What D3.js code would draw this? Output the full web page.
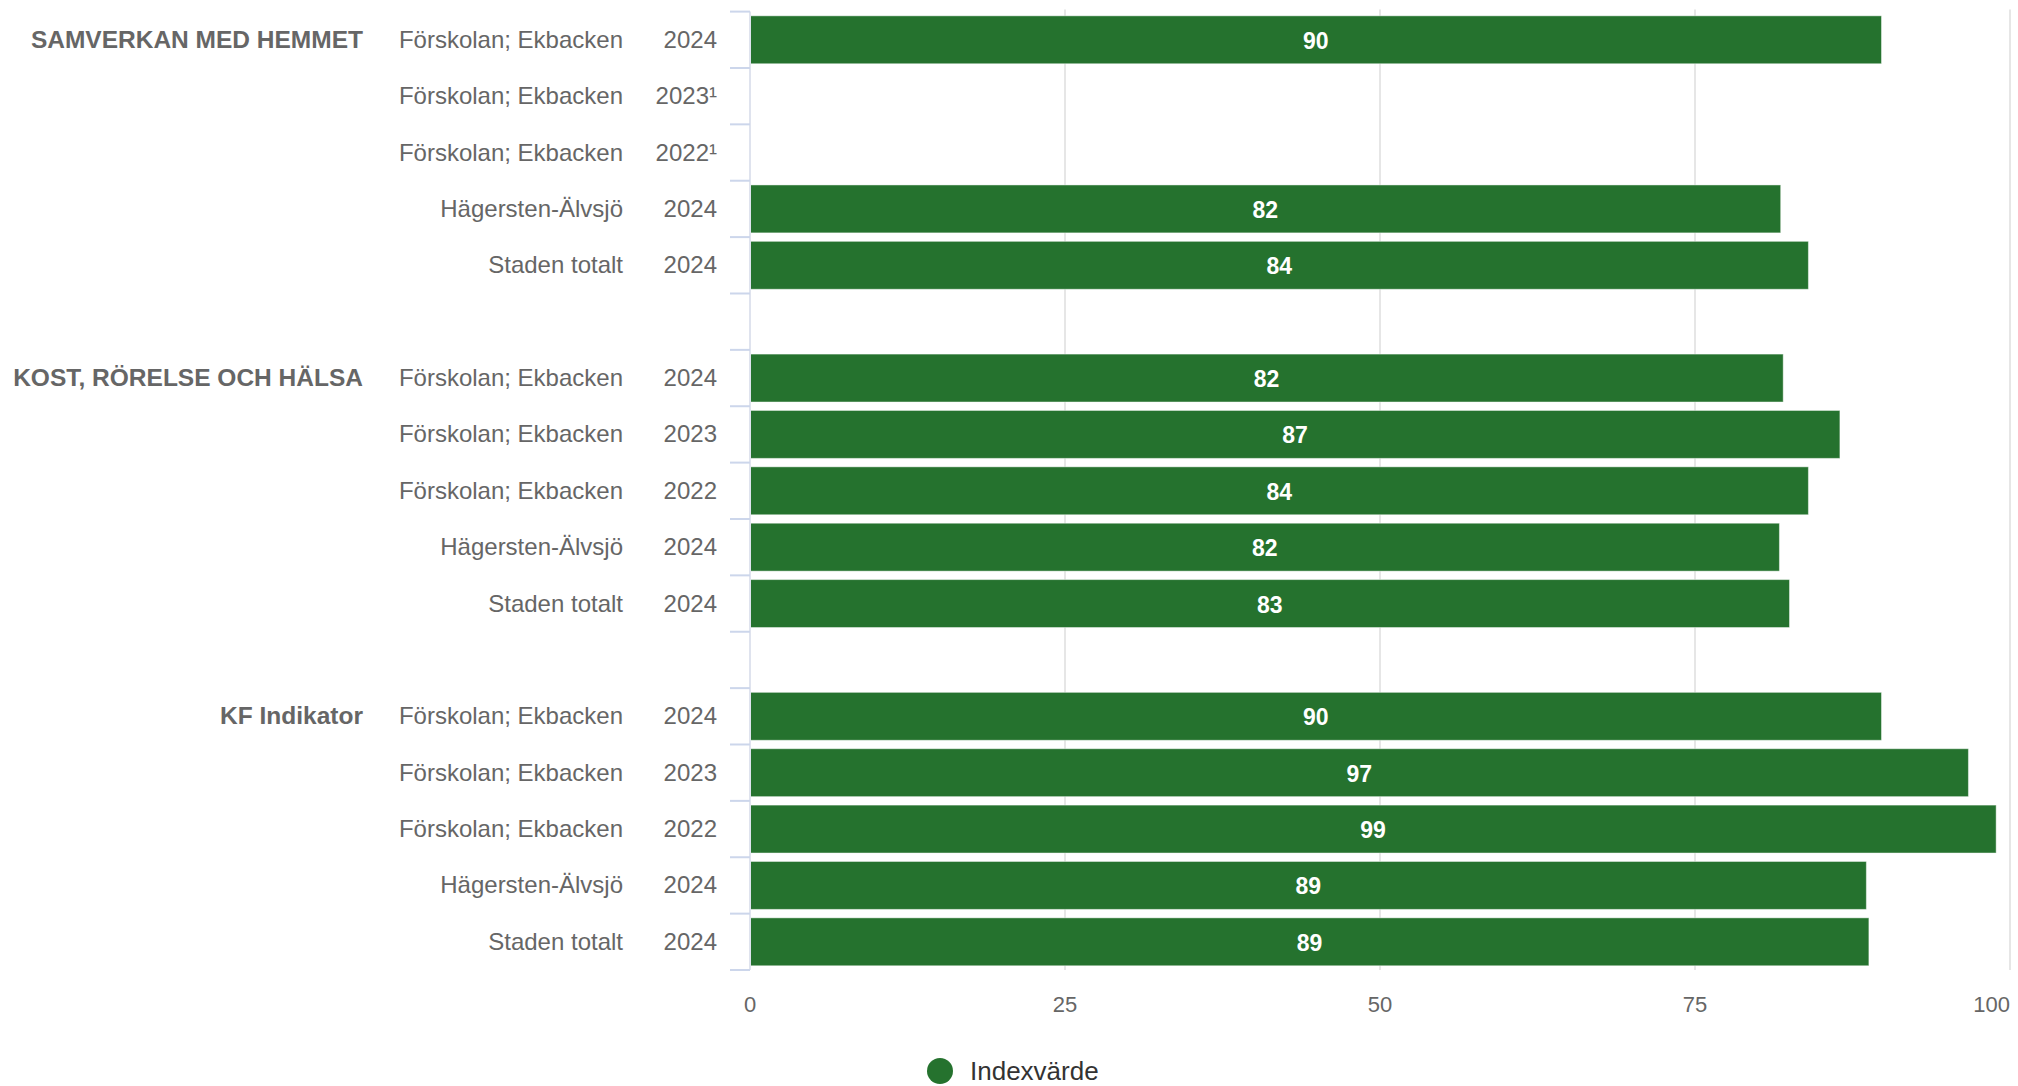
<!DOCTYPE html>
<html>
<head>
<meta charset="utf-8">
<script src="https://cdn.jsdelivr.net/npm/d3@7"></script>
<style>
  body { margin: 0; background: #fff; }
  text { font-family: "Liberation Sans", Arial, sans-serif; }
</style>
</head>
<body>
<svg id="chart" width="2018" height="1086"></svg>
<script>
// data
const groups = ["SAMVERKAN MED HEMMET", "KOST, RÖRELSE OCH HÄLSA", "KF Indikator"];
const units = ["Förskolan; Ekbacken", "Förskolan; Ekbacken", "Förskolan; Ekbacken", "Hägersten-Älvsjö", "Staden totalt"];
const years = [
  ["2024", "2023¹", "2022¹", "2024", "2024"],
  ["2024", "2023", "2022", "2024", "2024"],
  ["2024", "2023", "2022", "2024", "2024"]
];
const values = [
  [89.8, null, null, 81.8, 84],
  [82, 86.5, 84, 81.7, 82.5],
  [89.8, 96.7, 98.9, 88.6, 88.8]
];
const xTicks = [0, 25, 50, 75, 100];
const seriesName = "Indexvärde";

const green = "#25722e";
const labelColor = "#666666";

svg = d3.select('#chart');
width = +svg.attr('width');

// flatten into rows, one empty row between groups
let rows = [];
groups.forEach((g, gi) => {
  units.forEach((u, i) => {
    rows.push({ group: i === 0 ? g : null, unit: u, year: years[gi][i], value: values[gi][i] });
  });
  if (gi < groups.length - 1) rows.push(null);
});
rows = rows.map((r, i) => Object.assign({ idx: i }, r || { gap: true }));

const x = d3.scaleLinear().domain([0, 100]).range([750, 2010]);
const y = d3.scaleBand()
  .domain(rows.map(d => d.idx))
  .range([11.6, 970])
  .paddingInner(0.15)
  .paddingOuter(0.075);
const step = y.step();
const top0 = 11.6;

// grid
svg.append('g')
  .selectAll('line')
  .data(xTicks.slice(1))
  .enter().append('line')
  .attr('x1', d => x(d)).attr('x2', d => x(d))
  .attr('y1', top0 - 2).attr('y2', 970)
  .attr('stroke', '#e6e6e6')
  .attr('stroke-width', 2);

// x labels
svg.append('g')
  .selectAll('text')
  .data(xTicks)
  .enter().append('text')
  .attr('x', d => x(d))
  .attr('y', 1012)
  .attr('text-anchor', d => d === 100 ? 'end' : 'middle')
  .attr('fill', labelColor)
  .style('font-size', '22px')
  .text(d => d);

// bars
svg.append('g')
  .selectAll('rect')
  .data(rows.filter(d => !d.gap && d.value != null))
  .enter().append('rect')
  .attr('x', x(0))
  .attr('y', d => y(d.idx))
  .attr('width', d => x(d.value) - x(0))
  .attr('height', y.bandwidth())
  .attr('fill', green)
  .attr('stroke', 'rgba(255,255,255,0.45)')
  .attr('stroke-width', 1);

// y axis line and ticks
svg.append('line')
  .attr('x1', 750).attr('x2', 750)
  .attr('y1', top0).attr('y2', 970)
  .attr('stroke', '#dfe3ee')
  .attr('stroke-width', 2);

svg.append('g')
  .selectAll('line')
  .data(d3.range(rows.length + 1))
  .enter().append('line')
  .attr('x1', 730).attr('x2', 750)
  .attr('y1', i => top0 + i * step).attr('y2', i => top0 + i * step)
  .attr('stroke', '#ccd6eb')
  .attr('stroke-width', 2);

// data labels
svg.append('g')
  .selectAll('text')
  .data(rows.filter(d => !d.gap && d.value != null))
  .enter().append('text')
  .attr('x', d => (x(0) + x(d.value)) / 2)
  .attr('y', d => y(d.idx) + y.bandwidth() / 2 + 9)
  .attr('text-anchor', 'middle')
  .attr('fill', '#fff')
  .style('font-size', '23px')
  .style('font-weight', 'bold')
  .text(d => Math.round(d.value));

// category labels
const lab = svg.append('g')
  .selectAll('g')
  .data(rows.filter(d => !d.gap))
  .enter().append('g')
  .attr('transform', d => 'translate(0,' + (y(d.idx) + y.bandwidth() / 2 + 8) + ')');

lab.append('text')
  .attr('x', 717)
  .attr('text-anchor', 'end')
  .attr('fill', labelColor)
  .style('font-size', '24px')
  .text(d => d.year);

lab.append('text')
  .attr('x', 623)
  .attr('text-anchor', 'end')
  .attr('fill', labelColor)
  .style('font-size', '24px')
  .text(d => d.unit);

lab.filter(d => d.group)
  .append('text')
  .attr('x', 363)
  .attr('text-anchor', 'end')
  .attr('fill', labelColor)
  .style('font-size', '24.5px')
  .style('font-weight', 'bold')
  .text(d => d.group);

// legend
const legend = svg.append('g').attr('transform', 'translate(940,1071)');
legend.append('circle')
  .attr('r', 13)
  .attr('fill', green);
legend.append('text')
  .attr('x', 30)
  .attr('y', 9)
  .attr('fill', '#333333')
  .style('font-size', '26px')
  .text(seriesName);
</script>
</body>
</html>
